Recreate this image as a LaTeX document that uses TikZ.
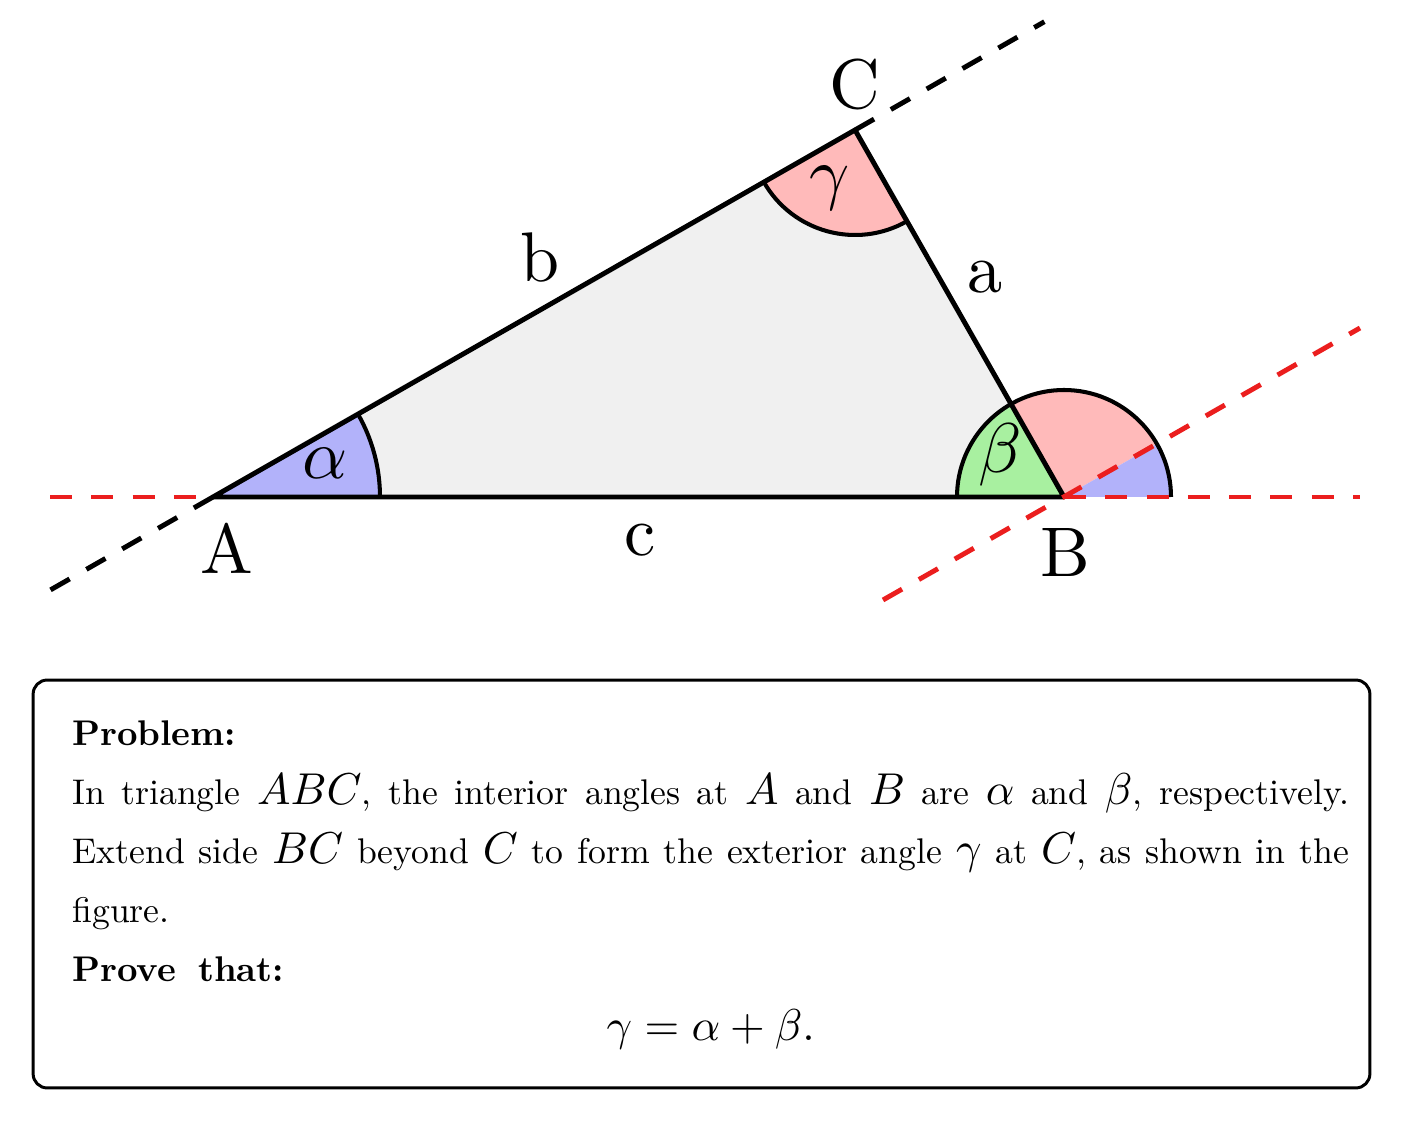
\documentclass[tikz,border=0pt]{standalone}
\usepackage{amsmath,amssymb}
\usepackage{tikz}
\usetikzlibrary{positioning,calc}
\setlength{\parindent}{0pt}
\definecolor{triGray}{RGB}{240,240,240}
\definecolor{angBlue}{RGB}{178,178,250}
\definecolor{angRed}{RGB}{255,186,186}
\definecolor{angGreen}{RGB}{168,240,160}
\definecolor{lineRed}{RGB}{235,30,30}
\newcommand{\biglbl}[1]{\scalebox{4}{#1}}
\newcommand{\probhead}[1]{\textbf{\spaceskip=6.2pt #1}}
\newcommand{\probmath}[1]{\scalebox{1.25}{$#1$}}

\begin{document}
\begin{tikzpicture}
            [x=0.02cm,y=0.02cm,
             side/.style={line width=2.8pt, line join=round},
             arcline/.style={line width=2.3pt},
             dashline/.style={line width=2.8pt, dash pattern=on 12.5pt off 11pt},
             lbl/.style={inner sep=0pt}]

            \useasboundingbox (0,0) rectangle (1402,1122);

            \coordinate (A) at (213,625);
            \coordinate (B) at (1064,625);
            \coordinate (C) at (855,992);
            \coordinate (lend) at (50,625);
            \coordinate (rend) at (1360,625);
            \coordinate (pl) at (883,522);
            \coordinate (pr) at (1360,794);

            \fill[triGray] (A) -- (B) -- (C) -- cycle;

            \foreach \v/\s/\e/\r/\c in {A/0/29.75/167/angBlue, C/209.75/299.66/105/angRed,
                B/119.66/180/107/angGreen, B/29.75/119.66/107/angRed, B/0/29.75/107/angBlue}
              \fill[\c] (\v) -- ++(\s:\r) arc[start angle=\s, end angle=\e, radius=\r] -- cycle;

            \draw[arcline] (A) ++(0:167) arc[start angle=0, end angle=29.75, radius=167];
            \draw[arcline] (C) ++(209.75:105) arc[start angle=209.75, end angle=299.66, radius=105];
            \draw[arcline] (B) ++(0:107) arc[start angle=0, end angle=180, radius=107];

            \draw[side] (A) -- (B) -- (C) -- cycle;

            \draw[dashline] (C) -- ($(A)!1.295!(C)$);
            \draw[dashline] (A) -- ($(C)!1.27!(A)$);
            \draw[dashline, lineRed] (lend) -- (A);
            \draw[dashline, lineRed] (B) -- (rend);
            \draw[dashline, lineRed] (pl) -- (pr);

            \node[lbl] (la) at (227,574) {\biglbl{A}};
            \node[lbl] (lb) at (1065,569) {\biglbl{B}};
            \node[lbl] (lc) at (855,1037) {\biglbl{C}};
            \node[lbl] (sa) at (985,845) {\biglbl{a}};
            \node[lbl] (sb) at (540,864) {\biglbl{b}};
            \node[lbl] (sc) at (640,582) {\biglbl{c}};
            \node[lbl] (alpha) at (325,659) {\biglbl{$\alpha$}};
            \node[lbl] (beta) at (1000,667) {\biglbl{$\beta$}};
            \node[lbl] (gamma) at (830,934) {\biglbl{$\gamma$}};

            \node[draw, line width=1.7pt, rounded corners=8pt, inner sep=0pt,
                  minimum width=26.74cm, minimum height=8.16cm] (frame) at (701.5,238) {};

            \node[anchor=north west, inner sep=0pt] (prob) at (72,402)
            {\scalebox{2.03}{\parbox{12.58cm}{\fontsize{10}{16.54}\selectfont
              \spaceskip=4.1pt plus 1.5pt minus 1pt
              \probhead{Problem:}\par
              In triangle \probmath{ABC}, the interior angles at \probmath{A} and \probmath{B} are
              \probmath{\alpha} and \probmath{\beta}, respectively.
              Extend side \probmath{BC} beyond \probmath{C} to form the exterior angle \probmath{\gamma}
              at \probmath{C}, as shown in the figure.\par
              \probhead{Prove that:}\par
              {\centering \probmath{\gamma = \alpha + \beta.}\par}}}};
        \end{tikzpicture}
\end{document}
